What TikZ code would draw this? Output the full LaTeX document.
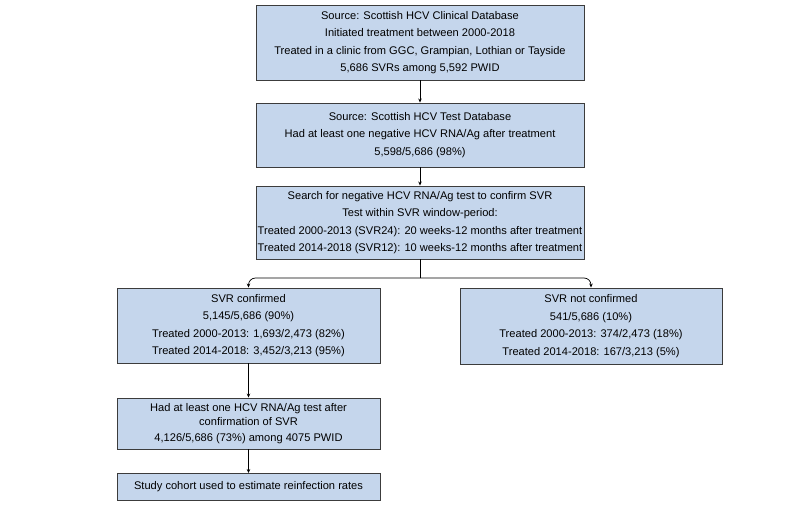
\documentclass[tikz,border=0pt]{standalone}
\usepackage{fontspec}
\setmainfont{Liberation Sans}
\usetikzlibrary{arrows.meta}
\definecolor{boxfill}{RGB}{197,214,236}
\definecolor{boxline}{RGB}{60,60,60}
\tikzset{
  flowbox/.style={draw=boxline, fill=boxfill, line width=0.9pt, align=center, inner sep=0pt,
    font=\fontsize{11.1}{17.5}\selectfont},
  arr/.style={draw=black, line width=0.7pt, -{Stealth[length=4pt,width=3.5pt]}}
}
\begin{document}
\begin{tikzpicture}[x=1pt,y=-1pt]
\useasboundingbox (0,0) rectangle (787,508);
\node[flowbox, minimum width=328pt, minimum height=75pt] (b1) at (420,42.5)
  {Source: Scottish HCV Clinical Database\\Initiated treatment between 2000-2018\\Treated in a clinic from GGC, Grampian, Lothian or Tayside\\5,686 SVRs among 5,592 PWID};
\node[flowbox, minimum width=328pt, minimum height=64pt] (b2) at (420,135)
  {Source: Scottish HCV Test Database\\Had at least one negative HCV RNA/Ag after treatment\\5,598/5,686 (98\%)};
\node[flowbox, minimum width=328pt, minimum height=73pt] (b3) at (420,222.5)
  {Search for negative HCV RNA/Ag test to confirm SVR\\Test within SVR window-period:\\Treated 2000-2013 (SVR24): 20 weeks-12 months after treatment\\Treated 2014-2018 (SVR12): 10 weeks-12 months after treatment};
\node[flowbox, minimum width=263pt, minimum height=75pt] (b4) at (248.5,325.5)
  {SVR confirmed\\5,145/5,686 (90\%)\\Treated 2000-2013: 1,693/2,473 (82\%)\\Treated 2014-2018: 3,452/3,213 (95\%)};
\node[flowbox, minimum width=262pt, minimum height=76pt] (b5) at (591,326)
  {SVR not confirmed\\541/5,686 (10\%)\\Treated 2000-2013: 374/2,473 (18\%)\\Treated 2014-2018: 167/3,213 (5\%)};
\node[flowbox, minimum width=263pt, minimum height=51pt] (b6) at (248.5,423.5)
  {Had at least one HCV RNA/Ag test after\\[-3.5pt]confirmation of SVR\\[-1.5pt]4,126/5,686 (73\%) among 4075 PWID};
\node[flowbox, minimum width=263pt, minimum height=27pt] (b7) at (248.5,487)
  {Study cohort used to estimate reinfection rates};
\draw[arr] (b1) -- (b2);
\draw[arr] (b2) -- (b3);
\coordinate (split) at (420,278);
\draw[line width=0.7pt] (b3.south) -- (split);
\draw[arr, rounded corners=7pt] (split) -| (b4.north);
\draw[arr, rounded corners=7pt] (split) -| (b5.north);
\draw[arr] (b4) -- (b6);
\draw[arr] (b6) -- (b7);
\end{tikzpicture}
\end{document}
